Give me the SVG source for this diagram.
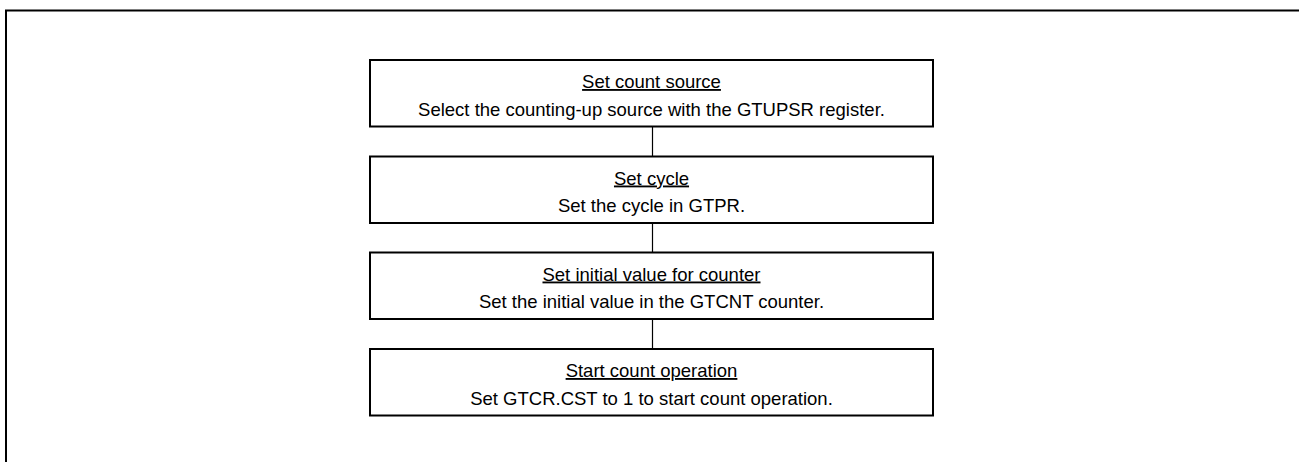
<svg xmlns="http://www.w3.org/2000/svg" width="1299" height="462" viewBox="0 0 1299 462">
<style>
.box{fill:#fff;stroke:#000;stroke-width:2}
.conn{stroke:#000;stroke-width:1.2;fill:none}
.frame{stroke:#000;stroke-width:2;fill:none}
text{font-family:"Liberation Sans",Arial,sans-serif;font-size:18.5px;fill:#000;text-anchor:middle}
.t{text-decoration:underline}
</style>
<rect width="1299" height="462" fill="#fff"/>
<path class="frame" d="M6,462 V10.5 H1299"/>
<g id="connectors">
<line class="conn" x1="652.5" y1="126.5" x2="652.5" y2="156.5"/>
<line class="conn" x1="652.5" y1="223" x2="652.5" y2="252.5"/>
<line class="conn" x1="652.5" y1="319" x2="652.5" y2="349"/>
</g>
<g id="node1">
<rect class="box" x="370" y="60" width="563" height="66.5"/>
<text class="t" x="651.5" y="88">Set count source</text>
<text x="651.5" y="115.5">Select the counting-up source with the GTUPSR register.</text>
</g>
<g id="node2">
<rect class="box" x="370" y="156.5" width="563" height="66.5"/>
<text class="t" x="651.5" y="184.5">Set cycle</text>
<text x="651.5" y="212">Set the cycle in GTPR.</text>
</g>
<g id="node3">
<rect class="box" x="370" y="252.5" width="563" height="66.5"/>
<text class="t" x="651.5" y="280.5">Set initial value for counter</text>
<text x="651.5" y="308">Set the initial value in the GTCNT counter.</text>
</g>
<g id="node4">
<rect class="box" x="370" y="349" width="563" height="66.5"/>
<text class="t" x="651.5" y="377">Start count operation</text>
<text x="651.5" y="404.5">Set GTCR.CST to 1 to start count operation.</text>
</g>
</svg>
